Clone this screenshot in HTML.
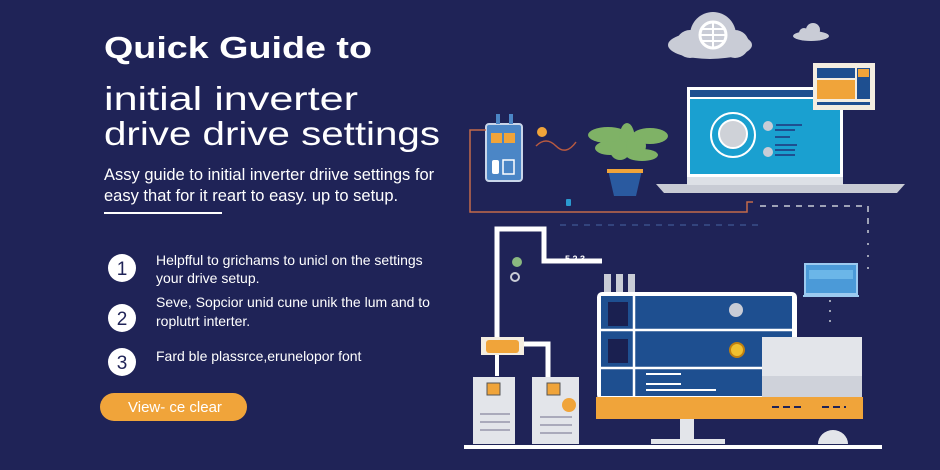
<!DOCTYPE html>
<html><head><meta charset="utf-8"><style>
body{margin:0;background:#1f2357;}
svg{display:block}
text{font-family:"Liberation Sans",sans-serif;fill:#fff}
</style></head><body>
<svg width="940" height="470" viewBox="0 0 940 470" xmlns="http://www.w3.org/2000/svg">
<rect width="940" height="470" fill="#1f2357"/>
<text x="104" y="58" font-size="31" font-weight="bold" textLength="268" lengthAdjust="spacingAndGlyphs">Quick Guide to</text>
<text x="104" y="110" font-size="33" textLength="254" lengthAdjust="spacingAndGlyphs">initial   inverter</text>
<text x="104" y="145" font-size="33" textLength="336" lengthAdjust="spacingAndGlyphs">drive drive settings</text>
<text x="104" y="180" font-size="16.5">Assy guide to initial inverter driive settings for</text>
<text x="104" y="201" font-size="16.5">easy that for it reart to easy. up to setup.</text>
<rect x="104" y="212" width="118" height="2" fill="#fff"/>
<g font-size="14">
<circle cx="122" cy="268" r="14" fill="#fff"/><text x="122" y="275" font-size="19" text-anchor="middle" style="fill:#1f2357">1</text>
<text x="156" y="265">Helpfful to grichams to unicl on the settings</text>
<text x="156" y="283">your drive setup.</text>
<circle cx="122" cy="318" r="14" fill="#fff"/><text x="122" y="325" font-size="19" text-anchor="middle" style="fill:#1f2357">2</text>
<text x="156" y="307">Seve,  Sopcior unid cune unik the lum and to</text>
<text x="156" y="326">roplutrt  interter.</text>
<circle cx="122" cy="362" r="14" fill="#fff"/><text x="122" y="369" font-size="19" text-anchor="middle" style="fill:#1f2357">3</text>
<text x="156" y="361">Fard ble plassrce,erunelopor  font</text>
</g>
<rect x="100" y="393" width="147" height="28" rx="14" fill="#f0a43a"/>
<text x="128" y="412" font-size="15">View- ce clear</text>

<g fill="#c9ccd6">
<ellipse cx="710" cy="45" rx="42" ry="14"/><circle cx="713" cy="35" r="23"/><circle cx="690" cy="44" r="14"/><circle cx="735" cy="44" r="14"/>
<ellipse cx="811" cy="36" rx="18" ry="5"/><circle cx="813" cy="30" r="7"/><circle cx="804" cy="33" r="5"/>
</g>
<circle cx="713" cy="35" r="13" fill="none" stroke="#fff" stroke-width="3"/>
<path d="M700 35h26M713 22v26M702 29h22M702 41h22" stroke="#fff" stroke-width="2"/>

<rect x="687" y="87" width="156" height="90" fill="#fff"/>
<rect x="690" y="99" width="150" height="75" fill="#1aa0d0"/>
<rect x="690" y="90" width="150" height="7" fill="#1e4f90"/>
<path d="M656 184h249l-8 9H664z" fill="#c8cbd4"/>
<rect x="687" y="177" width="156" height="8" fill="#dde0e6"/>
<circle cx="733" cy="135" r="22" fill="none" stroke="#fff" stroke-width="2"/>
<circle cx="733" cy="134" r="14" fill="#cfd2d8" stroke="#fff" stroke-width="2"/>
<circle cx="768" cy="126" r="5" fill="#c9ccd6"/><circle cx="768" cy="152" r="5" fill="#c9ccd6"/>
<path d="M776 125h26M775 130h20M775 137h15M775 145h22M775 150h20M775 155h20" stroke="#1e4f90" stroke-width="2"/>
<rect x="813" y="63" width="62" height="47" fill="#f4ede0"/>
<rect x="817" y="68" width="38" height="10" fill="#1e4f90"/>
<rect x="817" y="80" width="38" height="19" fill="#f0a43a"/>
<rect x="857" y="68" width="13" height="31" fill="#1e4f90"/>
<rect x="858" y="69" width="11" height="8" fill="#f0a43a"/>
<rect x="817" y="102" width="53" height="3" fill="#1e4f90"/>

<rect x="486" y="124" width="36" height="57" rx="3" fill="#4b86c6" stroke="#c9d6ea" stroke-width="2"/>
<rect x="496" y="114" width="4" height="10" fill="#4b86c6"/><rect x="509" y="114" width="4" height="10" fill="#4b86c6"/>
<rect x="491" y="133" width="11" height="10" fill="#f0a43a"/><rect x="504" y="133" width="11" height="10" fill="#f0a43a"/>
<rect x="492" y="160" width="7" height="14" rx="2" fill="#fff"/><rect x="503" y="160" width="11" height="14" fill="none" stroke="#fff" stroke-width="1.5"/>
<circle cx="542" cy="132" r="5" fill="#f0a43a"/>
<path d="M536 146q10 -10 20 0t20 -4" stroke="#b85a40" fill="none" stroke-width="1.5"/>
<path d="M608 170h34l-6 26h-22z" fill="#2a5aa0"/><rect x="607" y="169" width="36" height="4" fill="#f0a43a"/>
<g fill="#7fb266">
<ellipse cx="608" cy="135" rx="20" ry="8"/><ellipse cx="650" cy="136" rx="18" ry="8"/><ellipse cx="610" cy="148" rx="15" ry="7"/><ellipse cx="642" cy="155" rx="16" ry="6"/><ellipse cx="627" cy="140" rx="8" ry="17"/><ellipse cx="620" cy="150" rx="10" ry="10"/><ellipse cx="636" cy="146" rx="10" ry="10"/></g>
<path d="M486 130h-16v82h277v-10h6" stroke="#c46a4a" fill="none" stroke-width="1.5"/>
<path d="M760 206h108v25" stroke="#c9ccd6" fill="none" stroke-width="1.5" stroke-dasharray="6 6"/>
<path d="M868 231v40" stroke="#c9ccd6" stroke-width="1.5" stroke-dasharray="2 10"/>
<path d="M560 225h200" stroke="#3a4f8a" stroke-width="1.5" stroke-dasharray="6 6"/>
<rect x="566" y="199" width="5" height="7" rx="1" fill="#2a9ad0"/>

<path d="M497 344V229h47v32h58" stroke="#fff" fill="none" stroke-width="5"/>
<path d="M500 344h48v40" stroke="#fff" fill="none" stroke-width="5"/>
<path d="M497 344v32" stroke="#fff" stroke-width="4"/>
<rect x="481" y="337" width="43" height="18" fill="#f4ede0"/><rect x="486" y="340" width="33" height="13" rx="3" fill="#f0a43a"/>
<text x="565" y="262" font-size="9" font-weight="bold">5 2 3</text>
<circle cx="517" cy="262" r="5" fill="#8ab880"/><circle cx="515" cy="277" r="4" fill="none" stroke="#c9ccd6" stroke-width="2"/>
<rect x="604" y="274" width="7" height="18" fill="#c9ccd6"/><rect x="616" y="274" width="7" height="18" fill="#c9ccd6"/><rect x="628" y="274" width="7" height="18" fill="#c9ccd6"/>
<rect x="473" y="377" width="42" height="67" fill="#e3e5ea"/><rect x="532" y="377" width="47" height="67" fill="#e3e5ea"/>
<rect x="487" y="383" width="13" height="12" fill="#f0a43a" stroke="#555" stroke-width="1"/><rect x="547" y="383" width="13" height="12" fill="#f0a43a" stroke="#555" stroke-width="1"/>
<circle cx="569" cy="405" r="7" fill="#f0a43a"/>
<path d="M480 414h30M480 422h30M480 430h30M540 417h32M540 425h32M540 433h32" stroke="#aab" stroke-width="2"/>
<rect x="597" y="292" width="200" height="108" rx="5" fill="#fff"/>
<rect x="601" y="296" width="191" height="100" fill="#1e4f90"/>
<path d="M634 296v100M601 330h191M601 368h191" stroke="#fff" stroke-width="2.5"/>
<rect x="608" y="302" width="20" height="24" fill="#1a2050"/><rect x="608" y="339" width="20" height="24" fill="#1a2050"/>
<circle cx="736" cy="310" r="7" fill="#c9ccd6"/><circle cx="737" cy="350" r="7" fill="#f0c030" stroke="#c08010" stroke-width="2"/>
<path d="M646 374h35M646 384h35M646 390h70" stroke="#fff" stroke-width="2"/>
<rect x="596" y="397" width="203" height="22" fill="#f0a43a"/>
<rect x="762" y="337" width="100" height="60" fill="#e3e5ea"/><rect x="762" y="376" width="100" height="21" fill="#cfd2da"/>
<rect x="760" y="397" width="103" height="22" fill="#f0a43a"/>
<path d="M772 407h30M822 407h24" stroke="#1f2357" stroke-width="2" stroke-dasharray="7 4"/>
<rect x="680" y="419" width="14" height="22" fill="#e3e5ea"/><rect x="651" y="439" width="74" height="5" fill="#e3e5ea"/>
<path d="M818 444a15 14 0 0 1 30 0z" fill="#e3e5ea"/>
<rect x="464" y="445" width="418" height="4" fill="#fff"/>
<rect x="805" y="264" width="52" height="30" fill="#4b9ad8" stroke="#9ccaf0" stroke-width="2"/>
<rect x="809" y="270" width="44" height="9" fill="#6bb6e8"/>
<rect x="803" y="295" width="56" height="2" fill="#9ccaf0"/>
<path d="M830 300v30" stroke="#c9ccd6" stroke-width="1.5" stroke-dasharray="2 8"/>
</svg>
</body></html>
